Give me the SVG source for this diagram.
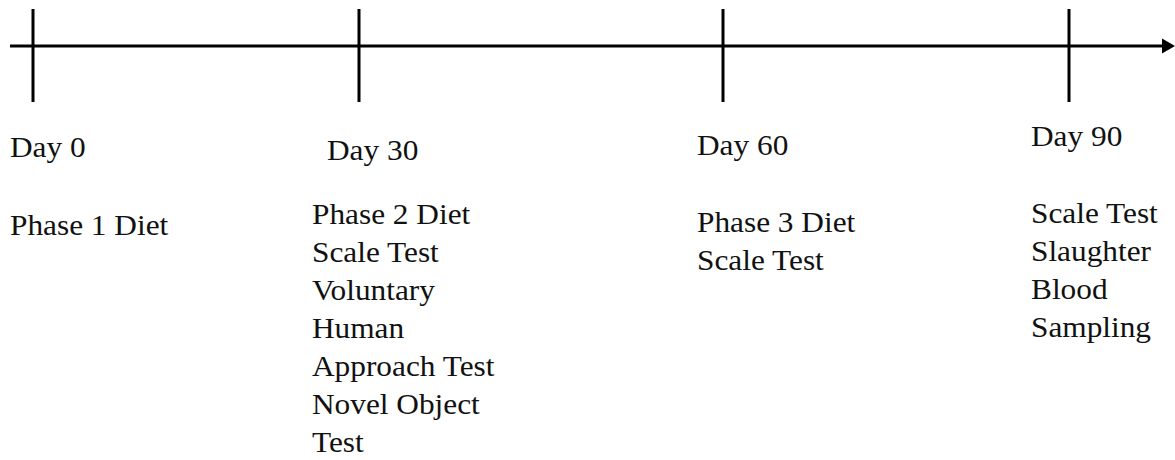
<svg xmlns="http://www.w3.org/2000/svg" width="1175" height="460" viewBox="0 0 1175 460">
<style>
.ln{stroke:#000;stroke-width:3;fill:none}
.t{font-family:"Liberation Serif","Times New Roman",serif;font-size:29px;fill:#111}
</style>
<rect width="1175" height="460" fill="#fff"/>
<g id="connectors">
<line class="ln" x1="10" y1="46" x2="1164" y2="46"/>
<polygon points="1162,38.5 1175,46 1162,53.5" fill="#000"/>
<line class="ln" x1="33" y1="9" x2="33" y2="102"/>
<line class="ln" x1="359" y1="9" x2="359" y2="102"/>
<line class="ln" x1="723" y1="9" x2="723" y2="102"/>
<line class="ln" x1="1069" y1="9" x2="1069" y2="102"/>
</g>
<g id="day0" transform="translate(10,0) scale(1.08,1)">
<text class="t" x="0" y="157">Day 0</text>
<text class="t" x="0" y="235">Phase 1 Diet</text>
</g>
<g id="day30" transform="translate(327,0) scale(1.08,1)">
<text class="t" x="0" y="160">Day 30</text>
</g>
<g id="day30-tasks" transform="translate(312,0) scale(1.08,1)">
<text class="t" x="0" y="224">Phase 2 Diet</text>
<text class="t" x="0" y="262">Scale Test</text>
<text class="t" x="0" y="300">Voluntary</text>
<text class="t" x="0" y="338">Human</text>
<text class="t" x="0" y="376">Approach Test</text>
<text class="t" x="0" y="414">Novel Object</text>
<text class="t" x="0" y="452">Test</text>
</g>
<g id="day60" transform="translate(697,0) scale(1.08,1)">
<text class="t" x="0" y="155">Day 60</text>
<text class="t" x="0" y="232">Phase 3 Diet</text>
<text class="t" x="0" y="270">Scale Test</text>
</g>
<g id="day90" transform="translate(1031,0) scale(1.08,1)">
<text class="t" x="0" y="146">Day 90</text>
<text class="t" x="0" y="223">Scale Test</text>
<text class="t" x="0" y="261">Slaughter</text>
<text class="t" x="0" y="299">Blood</text>
<text class="t" x="0" y="337">Sampling</text>
</g>
</svg>
